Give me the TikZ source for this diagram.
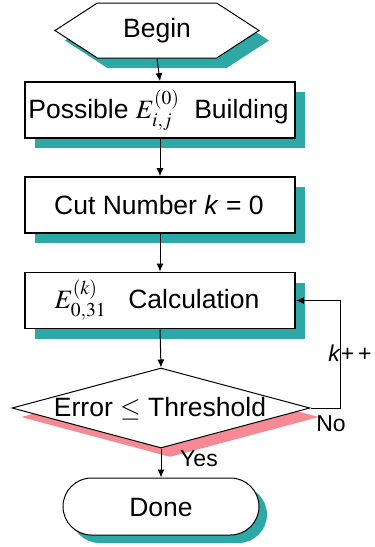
\documentclass[tikz,border=0pt]{standalone}
\usepackage{mathptmx}
\usepackage{fontspec}
\setmainfont{Liberation Sans}
\usetikzlibrary{shapes.geometric,shapes.symbols,shapes.misc,shadows,arrows.meta}
\definecolor{tealsh}{RGB}{45,168,166}
\definecolor{pinksh}{RGB}{246,138,148}
\begin{document}
\begin{tikzpicture}[x=1pt,y=-1pt,
  tshadow/.style={drop shadow={shadow xshift=10pt,shadow yshift=-10pt,fill=tealsh,opacity=1}},
  box/.style={draw,line width=1.8pt,fill=white,minimum width=270pt,minimum height=56pt,inner sep=0pt,tshadow},
  hexs/.style={draw,line width=1pt,fill=white,shape=signal,signal to=west and east,signal pointer angle=66,minimum width=204pt,minimum height=55pt,inner sep=0pt,tshadow},
  dia/.style={draw,line width=1pt,fill=white,shape=diamond,minimum width=298pt,minimum height=80pt,inner sep=0pt,
     drop shadow={shadow xshift=9pt,shadow yshift=-9pt,fill=pinksh,opacity=1}},
  term/.style={draw,line width=1pt,fill=white,shape=rounded rectangle,minimum width=196pt,minimum height=57pt,inner sep=0pt,
     drop shadow={shadow xshift=8pt,shadow yshift=-8pt,fill=tealsh,opacity=1}},
  txt/.style={inner sep=0pt,font=\fontsize{26.5}{30}\selectfont},
  lbl/.style={inner sep=0pt,font=\fontsize{23}{27}\selectfont},
  arr/.style={line width=1pt,-{Latex[length=8pt,width=7pt]}}]
\useasboundingbox (0,0) rectangle (375,547);
\node[hexs] (hex) at (157,30.5) {};
\node[box] (b1) at (160,110) {};
\node[box] (b2) at (160,205) {};
\node[box] (b3) at (160,300.5) {};
\node[dia] (dia) at (161,408) {};
\node[term] (done) at (161,506.5) {};
\node[txt] (t0) at (157,31) {Begin};
\node[txt] (t1) at (158.5,110) {Possible $E^{(0)}_{i,j}$\ \ Building};
\node[txt] (t2) at (159,205) {Cut Number \textit{k} = 0};
\node[txt] (t3) at (157,300) {$E^{(k)}_{0,31}$\ \ \ Calculation};
\node[txt] (t4) at (160,409) {Error $\leq$ Threshold};
\node[txt] (t5) at (161,508) {Done};
\coordinate (lp) at (340,408);
\draw[arr] (hex.south) -- (b1.north);
\draw[arr] (b1.south) -- (b2.north);
\draw[arr] (b2.south) -- (b3.north);
\draw[arr] (b3.south) -- (dia.north);
\draw[arr] (dia.south) -- (done.north);
\draw[arr] (dia.east) -- (lp) |- (b3.east);
\node[lbl] (kpp) at (350,353) {\textit{k}+\,+};
\node[lbl] (no) at (331,424) {No};
\node[lbl] (yes) at (199,459) {Yes};
\end{tikzpicture}
\end{document}
